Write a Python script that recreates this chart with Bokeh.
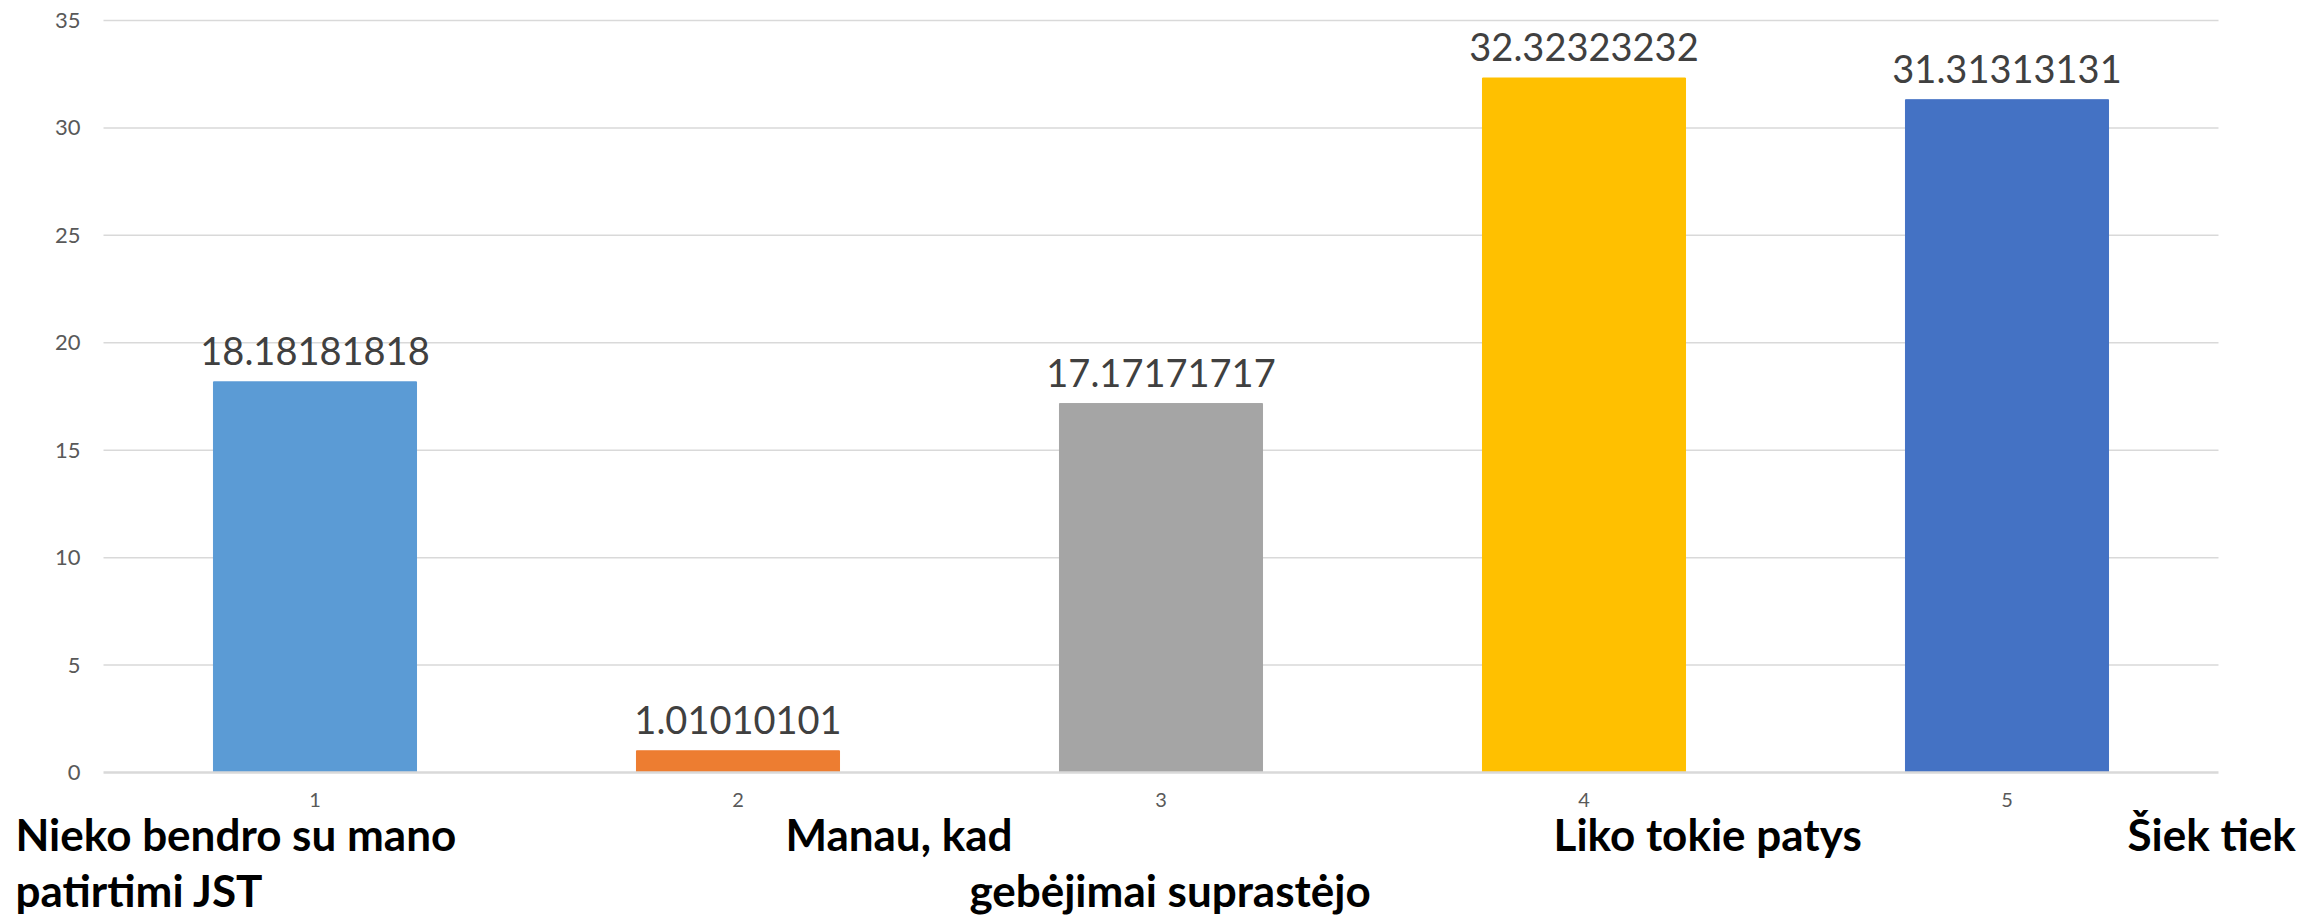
from bokeh.plotting import figure
from bokeh.models import ColumnDataSource, Range1d
from bokeh.core.properties import value
from bokeh.embed import file_html
from bokeh.resources import INLINE

# Survey answer shares (%) for five answer options
categories = [1, 2, 3, 4, 5]
values = [18.18181818, 1.01010101, 17.17171717, 32.32323232, 31.31313131]
value_labels = ["18.18181818", "1.01010101", "17.17171717", "32.32323232", "31.31313131"]
colors = ["#5B9BD5", "#ED7D31", "#A5A5A5", "#FFC000", "#4472C4"]
y_ticks = [0, 5, 10, 15, 20, 25, 30, 35]
x_tick_labels = ["1", "2", "3", "4", "5"]

# Answer option captions, printed in two rows under the axis
caption_row1 = ["Nieko bendro su mano", "Manau, kad", "Liko tokie patys", "Šiek tiek"]
caption_row1_x = [0.292, 2.112, 3.928, 5.285]
caption_row2 = ["patirtimi JST", "gebėjimai suprastėjo"]
caption_row2_x = [0.292, 2.547]

X_MIN, X_MAX = 0.5, 5.5          # category span of the plotting area
PX_X = 423.0                      # pixels per category
PX_Y = 21.486                     # pixels per percentage point

# The frame covers the whole canvas so that the captions can sit outside the bars' area
p = figure(width=2323, height=916, output_backend="svg", toolbar_location=None,
           x_axis_location=None, y_axis_location=None,
           x_range=Range1d(X_MIN - 103 / PX_X, X_MIN - 103 / PX_X + 2323 / PX_X),
           y_range=Range1d(-144 / PX_Y, 35 + 20 / PX_Y),
           min_border=0)
p.outline_line_color = None
p.background_fill_color = "white"
p.border_fill_color = "white"
p.xgrid.visible = False
p.ygrid.visible = False

# horizontal gridlines
grid = ColumnDataSource(dict(y=y_ticks[1:]))
p.segment(x0=X_MIN, x1=X_MAX, y0="y", y1="y", source=grid, line_color="#D9D9D9", line_width=1.5)

# bars
src = ColumnDataSource(dict(x=categories, top=values, label=value_labels, color=colors,
                            label_y=[v + 31 / PX_Y for v in values]))
p.vbar(x="x", top="top", width=0.48, bottom=0, color="color", source=src)

# category axis line
p.segment(x0=[X_MIN], x1=[X_MAX], y0=[0], y1=[0], line_color="#D9D9D9", line_width=2.5)

# value labels
p.text(x="x", y="label_y", text="label", source=src, text_align="center",
       text_baseline="alphabetic", text_color="#404040",
       text_font=value("Lato"), text_font_size="38px")

# y tick labels
yt = ColumnDataSource(dict(y=y_ticks, t=[str(v) for v in y_ticks],
                           x=[X_MIN - 23 / PX_X] * len(y_ticks)))
p.text(x="x", y="y", text="t", source=yt, text_align="right", text_baseline="middle",
       text_color="#595959", text_font=value("Lato"), text_font_size="22px")

# x tick labels
xt = ColumnDataSource(dict(x=categories, t=x_tick_labels, y=[-27 / PX_Y] * len(categories)))
p.text(x="x", y="y", text="t", source=xt, text_align="center", text_baseline="middle",
       text_color="#595959", text_font=value("Lato"), text_font_size="20px")

# captions
c1 = ColumnDataSource(dict(x=caption_row1_x, t=caption_row1, y=[-61 / PX_Y] * len(caption_row1)))
c2 = ColumnDataSource(dict(x=caption_row2_x, t=caption_row2, y=[-117 / PX_Y] * len(caption_row2)))
for cs in (c1, c2):
    p.text(x="x", y="y", text="t", source=cs, text_align="left", text_baseline="alphabetic",
           text_color="black", text_font=value("Lato"), text_font_style="bold",
           text_font_size="44px")

open("out.html", "w").write(file_html(p, INLINE))
